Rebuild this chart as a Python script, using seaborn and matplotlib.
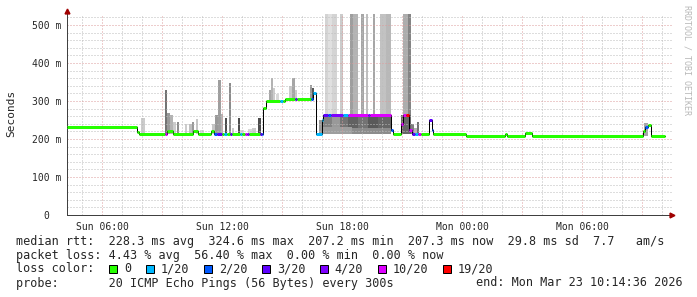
import matplotlib
matplotlib.use("Agg")
import matplotlib.pyplot as plt
from matplotlib.patches import Rectangle
import numpy as np
import pandas as pd
import seaborn as sns

# ---------------- data ----------------
# median rtt steps (hours since Sun 00:00, ms, lost pings of 20)
seg_start = [4.25, 7.75, 7.85, 9.15, 9.25, 9.55, 10.55, 10.8, 11.45, 11.6,
             11.75, 12.0, 12.1, 12.25, 12.4, 12.5, 12.9, 13.0, 13.15, 13.25,
             13.35, 13.9, 14.0, 14.05, 14.2, 14.9, 15.05, 15.15, 15.65, 15.75,
             16.45, 16.55, 16.7, 17.0, 17.05, 17.3, 17.45, 18.05, 18.3, 19.3,
             19.4, 20.45, 20.55, 20.95, 21.05, 21.2, 21.35, 21.5, 21.65, 21.8,
             21.95, 22.35, 22.5, 22.55, 24.2, 26.15, 26.25, 27.15, 27.5, 33.05,
             33.15, 33.3, 33.45]
seg_median = [232, 218, 212, 212, 220, 212, 222, 212, 222, 212,
              212, 212, 212, 212, 212, 212, 212, 212, 212, 212,
              212, 212, 212, 282, 300, 300, 300, 306, 306, 306,
              306, 322, 213, 250, 263, 263, 263, 263, 263, 263,
              263, 225, 212, 240, 263, 263, 225, 212, 212, 212,
              212, 250, 225, 212, 207, 213, 207, 215, 207, 222,
              232, 236, 207]
seg_loss = [0, 0, 0, 10, 0, 0, 0, 0, 0, 2,
            3, 0, 1, 0, 3, 0, 1, 0, 10, 4,
            0, 3, 2, 0, 0, 1, 0, 0, 3, 0,
            2, 1, 1, 1, 3, 2, 4, 1, 10, 4,
            10, 2, 0, 10, 10, 19, 10, 3, 1, 10,
            0, 3, 2, 0, 0, 0, 0, 0, 0, 0,
            2, 0, 0]
end_hour = 34.15

# smoke (ping spread) blocks: start, end, low ms, high ms, grey density
smoke_t0 = [7.95, 9.15, 9.25, 9.40, 9.55, 9.75, 10.15, 10.35, 10.50, 10.70,
            10.90, 11.50, 11.65, 11.80, 11.95, 12.15, 12.35, 12.50, 12.80, 12.90,
            13.30, 13.50, 13.80, 14.35, 14.45, 14.55, 14.70, 15.35, 15.50, 15.65,
            16.40, 16.50, 16.85,
            17.05, 17.5, 17.9, 18.3, 18.8, 19.3, 19.8, 17.05, 18.5,
            17.15, 17.3, 17.5, 17.9, 18.4, 18.55, 18.95, 19.2, 19.55, 19.9, 20.2,
            20.95, 21.05, 21.3, 21.45, 21.6, 21.75, 33.1]
smoke_t1 = [8.15, 9.25, 9.40, 9.55, 9.70, 9.85, 10.25, 10.50, 10.60, 10.80,
            11.10, 11.70, 11.80, 11.95, 12.05, 12.25, 12.45, 12.60, 12.90, 13.10,
            13.50, 13.70, 13.95, 14.45, 14.55, 14.65, 14.85, 15.50, 15.65, 15.75,
            16.50, 16.60, 17.05,
            17.5, 17.9, 18.3, 18.8, 19.3, 19.8, 20.45, 18.5, 20.45,
            17.3, 17.5, 17.75, 18.05, 18.55, 18.8, 19.1, 19.3, 19.65, 20.2, 20.45,
            21.45, 21.3, 21.45, 21.6, 21.75, 21.85, 33.3]
smoke_lo = [212, 212, 212, 212, 212, 212, 212, 212, 212, 212,
            212, 212, 212, 212, 212, 212, 212, 212, 212, 212,
            212, 212, 212, 300, 300, 300, 300, 306, 306, 306,
            306, 306, 212,
            212, 212, 212, 212, 212, 212, 212, 212, 212,
            263, 263, 263, 263, 263, 263, 263, 263, 263, 263, 263,
            212, 263, 263, 212, 212, 212, 207]
smoke_hi = [255, 330, 268, 262, 245, 245, 240, 240, 245, 252,
            225, 240, 262, 355, 265, 255, 348, 230, 255, 225,
            226, 228, 256, 330, 360, 335, 318, 340, 360, 330,
            342, 335, 250,
            263, 263, 263, 263, 263, 263, 263, 232, 230,
            600, 600, 600, 600, 600, 600, 600, 600, 600, 600, 600,
            263, 600, 600, 240, 230, 245, 243]
smoke_grey = [0.80, 0.45, 0.60, 0.70, 0.80, 0.55, 0.80, 0.75, 0.60, 0.78,
              0.85, 0.78, 0.60, 0.62, 0.70, 0.30, 0.55, 0.80, 0.30, 0.85,
              0.85, 0.80, 0.30, 0.65, 0.70, 0.80, 0.85, 0.80, 0.65, 0.80,
              0.60, 0.35, 0.60,
              0.50, 0.60, 0.45, 0.38, 0.45, 0.35, 0.40, 0.62, 0.55,
              0.83, 0.88, 0.83, 0.80, 0.62, 0.70, 0.65, 0.75, 0.65, 0.76, 0.72,
              0.40, 0.68, 0.52, 0.50, 0.70, 0.45, 0.65]

x_ticks = [6, 12, 18, 24, 30]
x_labels = ["Sun 06:00", "Sun 12:00", "Sun 18:00", "Mon 00:00", "Mon 06:00"]
y_ticks = [0, 100, 200, 300, 400, 500]
y_labels = ["0  ", "100 m", "200 m", "300 m", "400 m", "500 m"]

loss_levels = [0, 1, 2, 3, 4, 10, 19]
loss_labels = ["0", "1/20", "2/20", "3/20", "4/20", "10/20", "19/20"]
loss_colors = ["#26ff00", "#00b8ff", "#0059ff", "#5e00ff", "#7e00ff", "#dd00ff", "#ff0000"]

legend_lines = [
    "median rtt:  228.3 ms avg  324.6 ms max  207.2 ms min  207.3 ms now  29.8 ms sd  7.7   am/s",
    "packet loss: 4.43 % avg  56.40 % max  0.00 % min  0.00 % now",
    "loss color:",
    "probe:       20 ICMP Echo Pings (56 Bytes) every 300s",
]
end_text = "end: Mon Mar 23 10:14:36 2026"

# ---------------- style ----------------
sns.set_style("white")
plt.rcParams["font.family"] = ["DejaVu Sans Mono"]

W, H = 697, 297
fig = plt.figure(figsize=(W / 100, H / 100), dpi=100)
ax_left, ax_right, ax_bottom, ax_top = 67, 672, 215, 14
ax = fig.add_axes([ax_left / W, 1 - ax_bottom / H, (ax_right - ax_left) / W,
                   (ax_bottom - ax_top) / H])
px = 0.72  # one pixel in points
ax.set_xlim(4.25, 4.25 + (ax_right - ax_left) / 20)
ax.set_ylim(0, (ax_bottom - ax_top) / 0.38)

# smoke
cmap_grey = [str(g) for g in smoke_grey]
ax.bar(smoke_t0, np.array(smoke_hi) - np.array(smoke_lo),
       width=np.array(smoke_t1) - np.array(smoke_t0), bottom=smoke_lo,
       align="edge", color=cmap_grey, linewidth=0, zorder=1)

# grid (dotted)
for h in range(5, 35):
    major = h % 3 == 0
    ax.axvline(h, color="#dc9c9c" if major else "#bdbdbd", lw=px,
               ls=(0, (1, 2)), zorder=1.5)
for v in range(20, 530, 20):
    major = v % 100 == 0
    ax.axhline(v, color="#dc9c9c" if major else "#bdbdbd", lw=px,
               ls=(0, (1, 2)), zorder=1.5)

# median line: black steps + loss-coloured segments
df = pd.DataFrame({"hour": seg_start + [end_hour],
                   "median": seg_median + [seg_median[-1]]})
sns.lineplot(data=df, x="hour", y="median", drawstyle="steps-post",
             color="black", linewidth=1.0 * px, estimator=None, ax=ax, zorder=3)
seg_end = seg_start[1:] + [end_hour]
col_map = dict(zip(loss_levels, loss_colors))
ax.hlines(seg_median, seg_start, seg_end,
          colors=[col_map[l] for l in seg_loss], linewidth=3 * px,
          capstyle="butt", zorder=4)

# axes
for s in ["top", "right"]:
    ax.spines[s].set_visible(False)
for s in ["left", "bottom"]:
    ax.spines[s].set_color("#404040")
    ax.spines[s].set_linewidth(px)
ax.set_xticks(x_ticks)
ax.set_xticklabels(x_labels, fontsize=7)
ax.set_xticks([9, 15, 21, 27, 33], minor=True)
ax.set_yticks(y_ticks)
ax.set_yticklabels(y_labels, fontsize=7)
ax.tick_params(axis="both", which="both", length=2, width=px,
               color="#d08080", pad=2)
ax.tick_params(axis="x", pad=3)
ax.set_xlabel("")
ax.set_ylabel("")
ax.plot([0], [1.0 + 3 / 201], marker="^", color="#a00000", markersize=3.5,
        transform=ax.transAxes, clip_on=False, zorder=6)
ax.plot([1.0], [0], marker=">", color="#a00000", markersize=3.5,
        transform=ax.transAxes, clip_on=False, zorder=6)

fig.text(11 / W, 1 - 113 / H, "Seconds", rotation=90, va="center", ha="center",
         fontsize=8)
fig.text(687 / W, 1 - 5 / H, "RRDTOOL / TOBI OETIKER", rotation=270,
         va="top", ha="center", fontsize=6, color="#b8b8b8")

# legend text
fs = 8.5
cw = 7.08
ys = [241, 255, 269, 283]
for line, y in zip(legend_lines, ys):
    fig.text(16 / W, 1 - y / H, line, fontsize=fs, va="center", ha="left")
fig.text(683 / W, 1 - 283 / H, end_text, fontsize=fs, va="center", ha="right")

bx = 109
for lab, c in zip(loss_labels, loss_colors):
    fig.add_artist(Rectangle((bx / W, 1 - 273 / H), 8 / W, 8 / H,
                             facecolor=c, edgecolor="black", linewidth=px,
                             transform=fig.transFigure))
    fig.text((bx + 15) / W, 1 - 269 / H, lab, fontsize=fs, va="center", ha="left")
    bx += 15 + len(lab) * cw + 14.7

fig.savefig("out.png", dpi=100, facecolor="white")
